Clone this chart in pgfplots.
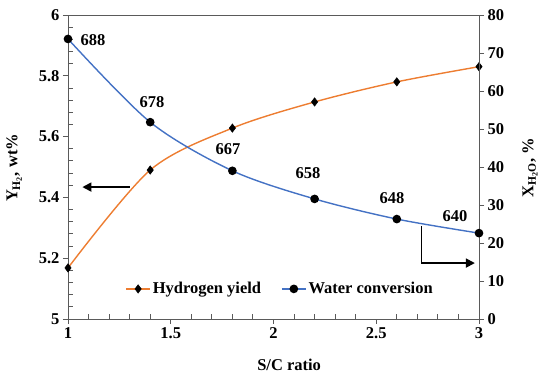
\documentclass[border=0pt]{standalone}
\usepackage{fontspec}
\setmainfont{Liberation Serif}
\usepackage{pgfplots}
\pgfplotsset{compat=1.18}
\usetikzlibrary{arrows.meta}
\definecolor{exorange}{RGB}{237,125,49}
\definecolor{exblue}{RGB}{68,114,196}
\definecolor{axgray}{RGB}{90,90,90}
\begin{document}
\begin{tikzpicture}
\pgfplotsset{
  every axis/.append style={
    scale only axis, width=411pt, height=304pt,
    xmin=1, xmax=3,
    font=\fontsize{16.5}{19}\selectfont\bfseries,
    /pgf/number format/assume math mode=true,
    tick label style={font=\fontsize{16.5}{19}\selectfont\bfseries},
    axis line style={axgray, line width=0.9pt},
    tick style={axgray, line width=0.9pt},
    tick align=outside,
    major tick length=5pt,
  }
}
% minor ticks (inside)
\begin{axis}[
  ymin=5, ymax=6,
  xtick={1.1,1.2,1.3,1.4,1.6,1.7,1.8,1.9,2.1,2.2,2.3,2.4,2.6,2.7,2.8,2.9},
  ytick={5.04,5.08,5.12,5.16,5.24,5.28,5.32,5.36,5.44,5.48,5.52,5.56,5.64,5.68,5.72,5.76,5.84,5.88,5.92,5.96},
  xticklabels={}, yticklabels={},
  tick align=inside, major tick length=5pt,
  tick style={axgray, line width=0.9pt},
  xtick pos=bottom, ytick pos=left,
]
\end{axis}
\begin{axis}[
  ymin=5, ymax=6,
  ytick={5,5.2,5.4,5.6,5.8,6},
  yticklabels={5,5.2,5.4,5.6,5.8,6},
  xtick={1,1.5,2,2.5,3},
  xticklabels={1,1.5,2,2.5,3},
  xtick pos=bottom, ytick pos=left,
  xlabel={S/C ratio},
  xlabel style={at={(axis description cs:0.538,-0.151)}, anchor=center},
  ylabel={Y\textsubscript{H\textsubscript{2}}, wt\%},
  ylabel style={at={(axis description cs:-0.131,0.497)}, anchor=center, rotate=0},
  clip=false,
]
\addplot[exorange, line width=1.4pt, smooth, mark=diamond*, mark size=4.2pt,
  mark options={black, fill=black, line width=0.5pt}]
  coordinates {(1,5.168) (1.4,5.49) (1.8,5.628) (2.2,5.714) (2.6,5.78) (3,5.83)};
\draw[black, line width=1.8pt, -{Triangle[length=9pt,width=9pt]}]
  (axis cs:1.3,5.434) -- (axis cs:1.07,5.434);
\draw[black, line width=1.8pt, -{Triangle[length=9pt,width=9pt]}]
  (axis cs:2.72,5.306) -- (axis cs:2.72,5.184) -- (axis cs:2.98,5.184);
\end{axis}
\begin{axis}[
  ymin=0, ymax=80,
  ytick={0,10,...,80},
  axis x line=none,
  axis y line*=right,
  ytick pos=right,
  ylabel={X\textsubscript{H\textsubscript{2}O}, \%},
  ylabel style={at={(axis description cs:1.124,0.497)}, anchor=center},
  clip=false,
  legend columns=2,
  legend style={at={(rel axis cs:0.516,0.099)}, anchor=center, draw=none, fill=none,
    font=\fontsize{16.5}{19}\selectfont\bfseries,
    /tikz/every even column/.append style={column sep=18pt}},
  legend image code/.code={
    \draw[mark repeat=2, mark phase=2] plot coordinates {(0pt,0pt) (12pt,0pt) (24pt,0pt)};},
]
\addlegendimage{exorange, line width=1.4pt, mark=diamond*, mark size=4.2pt,
  mark options={black, fill=black, line width=0.5pt}}
\addlegendentry{Hydrogen yield}
\addplot[exblue, line width=1.4pt, smooth, mark=*, mark size=3.6pt,
  mark options={black, fill=black}]
  coordinates {(1,73.7) (1.4,51.8) (1.8,39.0) (2.2,31.6) (2.6,26.3) (3,22.6)};
\addlegendentry{Water conversion}
\node at (axis cs:1.122,73.4) {688};
\node at (axis cs:1.409,57.1) {678};
\node at (axis cs:1.779,44.7) {667};
\node at (axis cs:2.168,38.4) {658};
\node at (axis cs:2.577,31.8) {648};
\node at (axis cs:2.883,27.1) {640};
\end{axis}
\pgfresetboundingbox
\path (current axis.south west) ++(-68pt,-61pt) rectangle ++(550pt,380pt);
\end{tikzpicture}
\end{document}
